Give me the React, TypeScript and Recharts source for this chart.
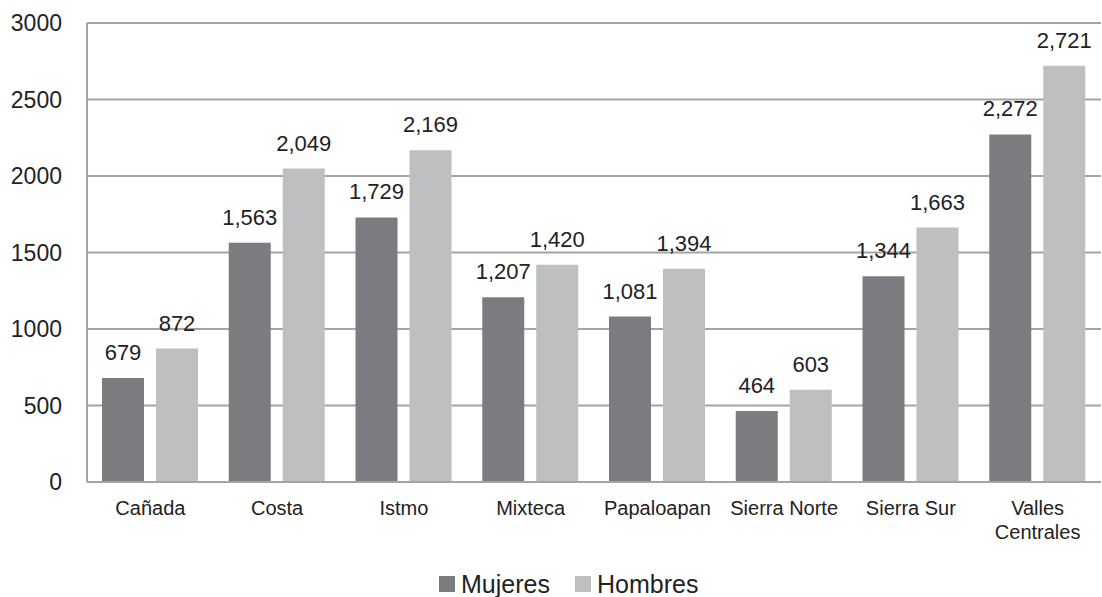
import { BarChart, Bar, XAxis, YAxis, CartesianGrid, Legend, LabelList } from 'recharts';

const regions = ['Cañada', 'Costa', 'Istmo', 'Mixteca', 'Papaloapan', 'Sierra Norte', 'Sierra Sur', 'Valles\nCentrales'];
const mujeres = [679, 1563, 1729, 1207, 1081, 464, 1344, 2272];
const hombres = [872, 2049, 2169, 1420, 1394, 603, 1663, 2721];
const yTicks = [0, 500, 1000, 1500, 2000, 2500, 3000];

const data = regions.map((region, i) => ({ region, mujeres: mujeres[i], hombres: hombres[i] }));

const DARK = '#7b7c80';
const LIGHT = '#bebfc1';
const GRID = '#a3a4a6';
const FONT = '"Liberation Sans", Arial, sans-serif';

function RegionTick({ x, y, payload }: any) {
  const lines = String(payload.value).split('\n');
  return (
    <text x={x} y={y + 33} textAnchor="middle" fill="#222" fontSize={20} fontFamily={FONT}>
      {lines.map((line, i) => (
        <tspan key={line} x={x} dy={i === 0 ? 0 : 24}>{line}</tspan>
      ))}
    </text>
  );
}

function LegendContent() {
  const item = (color: string, label: string, left: number) => (
    <div style={{ position: 'absolute', left, top: 22, display: 'flex', alignItems: 'center' }}>
      <div style={{ width: 16, height: 16, background: color, marginRight: 6 }} />
      <span style={{ fontSize: 25, color: '#222', fontFamily: FONT, lineHeight: '20px' }}>{label}</span>
    </div>
  );
  return (
    <div style={{ position: 'relative', width: 1102, height: 45 }}>
      {item(DARK, 'Mujeres', 439)}
      {item(LIGHT, 'Hombres', 575)}
    </div>
  );
}

export default function App() {
  return (
    <div style={{ position: 'absolute', left: 0, top: 0, width: 1102, height: 597, background: '#fff' }}>
      <BarChart
        width={1102}
        height={597}
        data={data}
        margin={{ top: 23, right: 1, left: 0, bottom: 0 }}
        barSize={42}
        barGap={12}
      >
        <CartesianGrid vertical={false} stroke={GRID} strokeWidth={2} />
        <XAxis
          dataKey="region"
          height={70}
          tickLine={false}
          tickSize={0}
          tickMargin={0}
          axisLine={{ stroke: GRID, strokeWidth: 2 }}
          tick={<RegionTick />}
          interval={0}
        />
        <YAxis
          width={87}
          domain={[0, 3000]}
          ticks={yTicks}
          tickLine={false}
          tickSize={0}
          tickMargin={25}
          axisLine={{ stroke: GRID, strokeWidth: 2 }}
          tick={{ fill: '#222', fontSize: 23, fontFamily: FONT }}
        />
        <Legend verticalAlign="bottom" height={45} content={<LegendContent />} wrapperStyle={{ left: 0 }} />
        <Bar dataKey="mujeres" name="Mujeres" fill={DARK} isAnimationActive={false}>
          <LabelList
            dataKey="mujeres"
            position="top"
            offset={18}
            formatter={(v: any) => Number(v).toLocaleString('en-US')}
            style={{ fill: '#222', fontSize: 22, fontFamily: FONT }}
          />
        </Bar>
        <Bar dataKey="hombres" name="Hombres" fill={LIGHT} isAnimationActive={false}>
          <LabelList
            dataKey="hombres"
            position="top"
            offset={18}
            formatter={(v: any) => Number(v).toLocaleString('en-US')}
            style={{ fill: '#222', fontSize: 22, fontFamily: FONT }}
          />
        </Bar>
      </BarChart>
    </div>
  );
}
